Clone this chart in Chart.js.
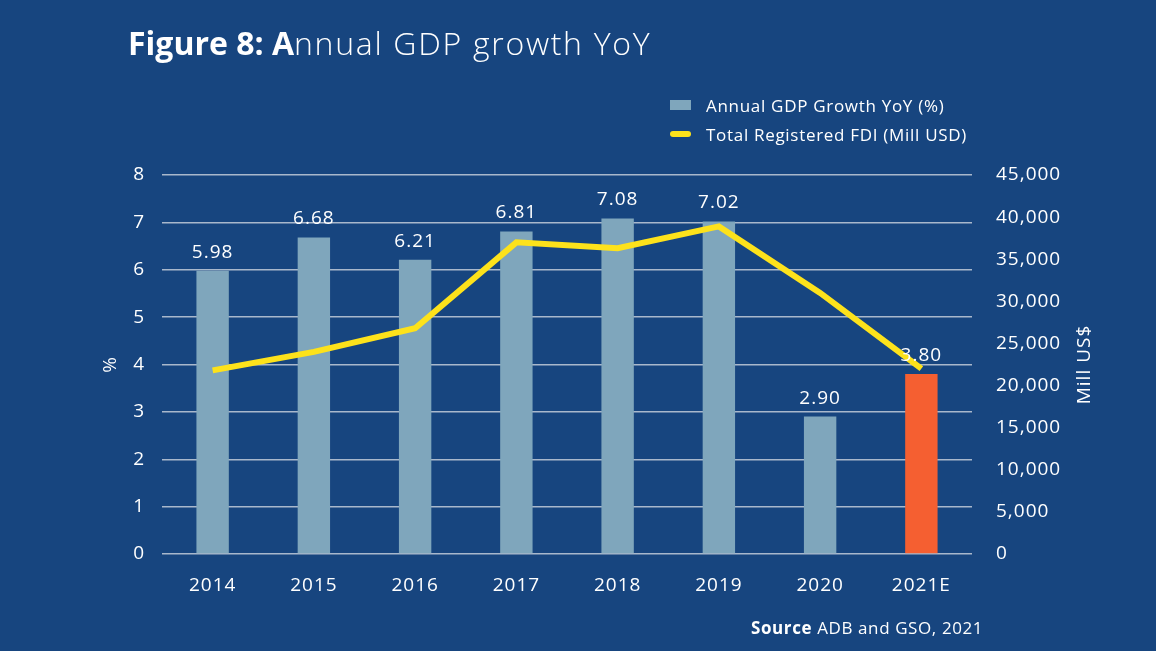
<!DOCTYPE html>
<html>
<head>
<meta charset="utf-8">
<script src="https://cdn.jsdelivr.net/npm/chart.js@4.4.1/dist/chart.umd.min.js"></script>
<style>
  html, body { margin: 0; padding: 0; background: #17457f; }
  #wrap { position: relative; width: 1156px; height: 651px; background: #17457f; font-family: "Open Sans", Lato, sans-serif; color: #fff; }
  #title { position: absolute; left: 128px; top: 21px; font-size: 32px; white-space: nowrap; }
  #title b { font-weight: 700; }
  #title span { font-weight: 300; letter-spacing: 1.7px; }
  .leg { position: absolute; left: 670px; font-size: 17px; letter-spacing: 0.7px; white-space: nowrap; }
  .leg i { display: inline-block; vertical-align: middle; margin-right: 15px; position: relative; top: -2px; }
  #source { position: absolute; left: 751px; top: 616px; font-size: 17px; letter-spacing: 0.6px; }
  canvas { position: absolute; left: 0; top: 0; }
</style>
</head>
<body>
<div id="wrap">
  <canvas id="gdpChart" width="1156" height="651"></canvas>
  <div id="title"><b>Figure 8: A</b><span>nnual GDP growth YoY</span></div>
  <div class="leg" style="top:94px"><i style="width:21px;height:10px;background:#7fa6bc"></i>Annual GDP Growth YoY (%)</div>
  <div class="leg" style="top:123px"><i style="width:21px;height:6px;border-radius:3px;background:#fde21b"></i>Total Registered FDI (Mill USD)</div>
  <div id="source"><b>Source</b> ADB and GSO, 2021</div>
</div>
<script>
const years = ["2014", "2015", "2016", "2017", "2018", "2019", "2020", "2021E"];
const gdpGrowth = [5.98, 6.68, 6.21, 6.81, 7.08, 7.02, 2.90, 3.80];
const fdiRegistered = [21800, 24000, 26800, 37000, 36300, 38900, 31000, 22000];
const barColors = ["#7fa6bc", "#7fa6bc", "#7fa6bc", "#7fa6bc", "#7fa6bc", "#7fa6bc", "#7fa6bc", "#f55f31"];

const fontFamily = "'Open Sans', Lato, sans-serif";
const tickFont = { family: fontFamily, size: 19 };

// a bit of tracking so the text is closer to the wide original face
const spacing = {
  id: "spacing",
  beforeUpdate(chart) { chart.ctx.letterSpacing = "1px"; },
  beforeDraw(chart) { chart.ctx.letterSpacing = "1px"; }
};

// value labels above bars + right axis title (reads bottom-to-top)
const extras = {
  id: "extras",
  afterDatasetsDraw(chart) {
    const ctx = chart.ctx;
    const meta = chart.getDatasetMeta(1);
    ctx.save();
    ctx.fillStyle = "#ffffff";
    ctx.font = "19px " + fontFamily;
    ctx.textAlign = "center";
    ctx.textBaseline = "bottom";
    meta.data.forEach((bar, i) => {
      ctx.fillText(gdpGrowth[i].toFixed(2), bar.x, bar.y - 9);
    });
    const area = chart.chartArea;
    ctx.translate(area.right + 113, (area.top + area.bottom) / 2);
    ctx.rotate(-Math.PI / 2);
    ctx.textBaseline = "middle";
    ctx.font = "19px " + fontFamily;
    ctx.fillText("Mill US$", 0, 0);
    ctx.restore();
  }
};

new Chart(document.getElementById("gdpChart"), {
  data: {
    labels: years,
    datasets: [
      {
        type: "line",
        label: "Total Registered FDI (Mill USD)",
        data: fdiRegistered,
        yAxisID: "y2",
        borderColor: "#fde21b",
        borderWidth: 6,
        pointRadius: 0,
        tension: 0,
        order: 0
      },
      {
        type: "bar",
        label: "Annual GDP Growth YoY (%)",
        data: gdpGrowth,
        yAxisID: "y",
        backgroundColor: barColors,
        barPercentage: 0.32,
        categoryPercentage: 1,
        order: 1
      }
    ]
  },
  options: {
    responsive: false,
    animation: false,
    layout: { padding: { top: 175, left: 95, right: 0, bottom: 0 } },
    plugins: { legend: { display: false }, tooltip: { enabled: false } },
    scales: {
      x: {
        grid: { display: false },
        border: { display: false },
        ticks: { color: "#ffffff", font: tickFont, padding: 12 },
        afterFit(scale) { scale.height = 97; }
      },
      y: {
        position: "left",
        min: 0,
        max: 8,
        ticks: { stepSize: 1, color: "#ffffff", font: tickFont, padding: 17 },
        grid: { color: "#a9b8cc", lineWidth: 1.5, drawTicks: false },
        border: { display: false },
        title: { display: true, text: "%", color: "#ffffff", font: tickFont, padding: 4 },
        afterFit(scale) { scale.width = 67; }
      },
      y2: {
        position: "right",
        min: 0,
        max: 45000,
        ticks: {
          stepSize: 5000,
          color: "#ffffff",
          font: tickFont,
          padding: 16,
          callback: (v) => v.toLocaleString("en-US")
        },
        grid: { display: false },
        border: { display: false },
        afterFit(scale) { scale.width = 184; }
      }
    }
  },
  plugins: [spacing, extras]
});
</script>
</body>
</html>
